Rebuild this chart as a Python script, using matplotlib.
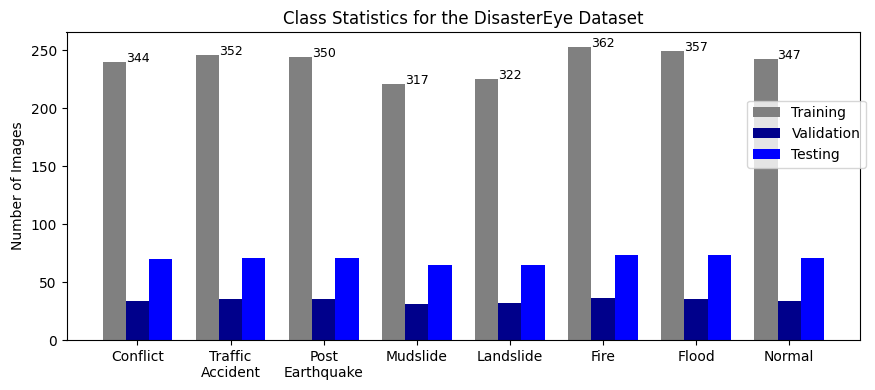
import matplotlib
matplotlib.use("Agg")
import matplotlib.pyplot as plt
import numpy as np

categories = ["Conflict", "Traffic\nAccident", "Post\nEarthquake", "Mudslide",
              "Landslide", "Fire", "Flood", "Normal"]
training = [240, 246, 244, 221, 225, 253, 249, 242]
validation = [34, 35, 35, 31, 32, 36, 35, 34]
testing = [70, 71, 71, 65, 65, 73, 73, 71]
totals = [344, 352, 350, 317, 322, 362, 357, 347]

x = np.arange(len(categories))
w = 0.25

fig, ax = plt.subplots(figsize=(8.75, 3.9), dpi=100)
ax.bar(x - w, training, w, color="gray", label="Training")
ax.bar(x, validation, w, color="darkblue", label="Validation")
ax.bar(x + w, testing, w, color="blue", label="Testing")
for xi, t, tot in zip(x, training, totals):
    ax.text(xi - w / 2, t, str(tot), ha="left", va="baseline", fontsize=9)

ax.set_xticks(x)
ax.set_xticklabels(categories)
ax.set_ylabel("Number of Images")
ax.set_title("Class Statistics for the DisasterEye Dataset")
ax.legend(loc="upper right", bbox_to_anchor=(1.016, 0.80))
fig.subplots_adjust(left=0.076, right=0.983, top=0.918, bottom=0.128)
fig.savefig("out.png", dpi=100)
